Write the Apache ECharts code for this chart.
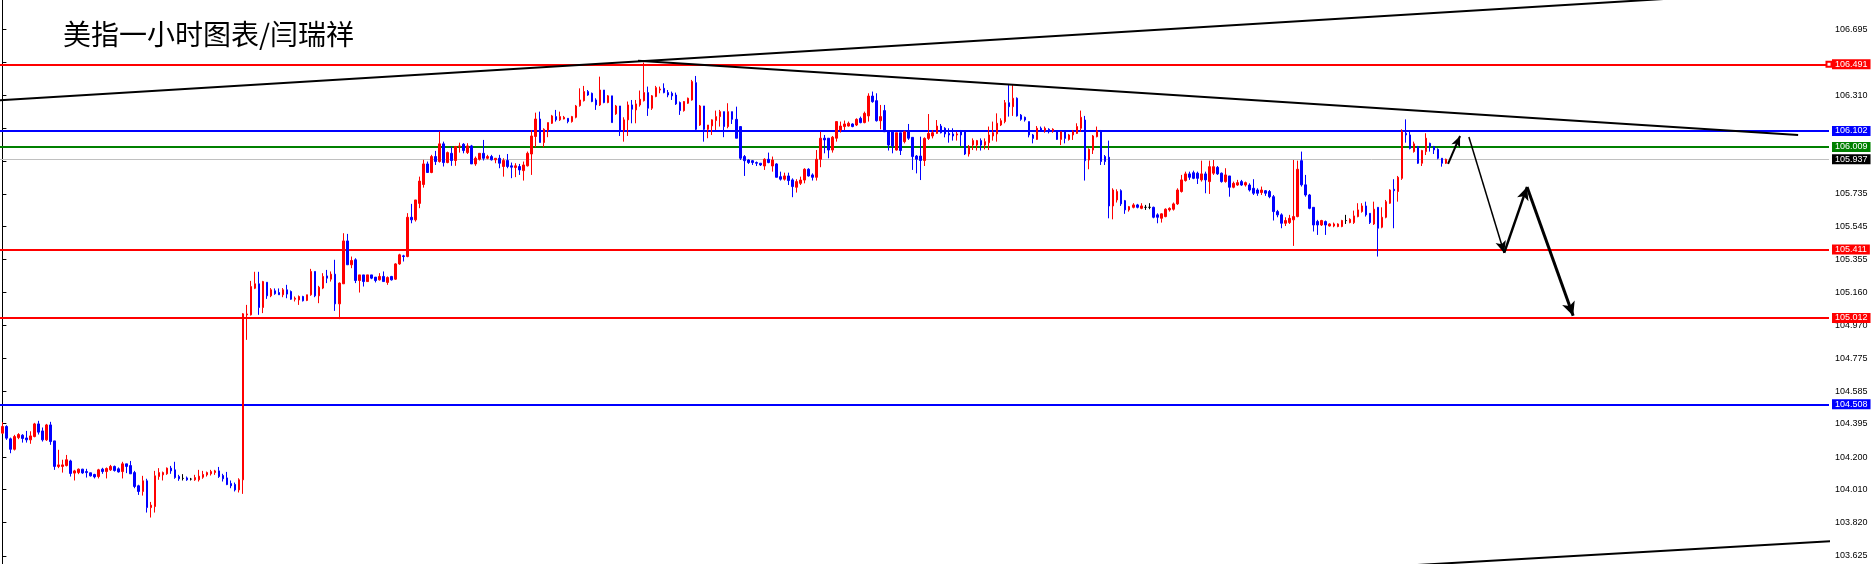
<!DOCTYPE html>
<html><head><meta charset="utf-8">
<script src="https://cdn.jsdelivr.net/npm/echarts@6/dist/echarts.min.js"></script>
<style>html,body{margin:0;padding:0;background:#fff}#c{width:1874px;height:564px}</style>
</head><body><div id="c"></div>
<script>
// OHLC rows: [open, close, low, high], one per hourly candle
const ohlc = [
[104.340,104.379,104.336,104.404],[104.379,104.311,104.301,104.386],[104.307,104.246,104.223,104.314],[104.246,104.320,104.239,104.330],
[104.314,104.332,104.305,104.340],[104.328,104.309,104.285,104.334],[104.312,104.301,104.285,104.353],[104.301,104.324,104.278,104.351],
[104.320,104.394,104.316,104.400],[104.394,104.346,104.332,104.412],[104.353,104.301,104.291,104.373],[104.301,104.388,104.295,104.394],
[104.388,104.291,104.272,104.406],[104.295,104.146,104.126,104.295],[104.146,104.155,104.136,104.243],[104.146,104.155,104.110,104.185],
[104.151,104.185,104.146,104.213],[104.178,104.105,104.087,104.185],[104.107,104.120,104.064,104.126],[104.110,104.130,104.101,104.134],
[104.130,104.108,104.103,104.132],[104.116,104.110,104.081,104.132],[104.109,104.091,104.087,104.109],[104.099,104.085,104.076,104.103],
[104.087,104.126,104.076,104.132],[104.130,104.116,104.103,104.138],[104.116,104.134,104.076,104.140],[104.126,104.146,104.120,104.155],
[104.146,104.122,104.116,104.151],[104.132,104.114,104.110,104.140],[104.116,104.161,104.076,104.173],[104.161,104.146,104.107,104.161],
[104.151,104.103,104.103,104.178],[104.110,104.029,104.019,104.120],[104.033,104.000,103.980,104.039],[104.000,104.062,103.976,104.091],
[104.062,103.906,103.877,104.074],[103.906,103.920,103.848,103.939],[103.912,104.091,103.877,104.120],[104.087,104.110,104.068,104.136],
[104.097,104.110,104.064,104.116],[104.103,104.136,104.097,104.140],[104.136,104.120,104.103,104.149],[104.126,104.081,104.074,104.173],
[104.087,104.074,104.062,104.097],[104.076,104.076,104.064,104.101],[104.079,104.068,104.062,104.087],[104.072,104.072,104.064,104.079],
[104.068,104.081,104.062,104.097],[104.068,104.089,104.058,104.126],[104.083,104.099,104.074,104.120],[104.097,104.110,104.087,104.116],
[104.103,104.116,104.093,104.126],[104.110,104.120,104.097,104.126],[104.120,104.087,104.079,104.143],[104.093,104.074,104.058,104.103],
[104.079,104.040,104.037,104.114],[104.046,104.033,104.019,104.064],[104.041,104.009,104.000,104.052],[104.009,104.068,103.994,104.077],
[104.068,105.036,103.986,105.040],[105.030,105.035,104.884,105.088],[105.030,105.195,105.026,105.228],[105.185,105.211,105.180,105.281],
[105.211,105.073,105.030,105.281],[105.073,105.224,105.040,105.228],[105.220,105.141,105.123,105.220],[105.141,105.176,105.133,105.186],
[105.170,105.153,105.147,105.184],[105.160,105.147,105.147,105.184],[105.147,105.176,105.133,105.186],[105.176,105.151,105.127,105.205],
[105.166,105.121,105.117,105.172],[105.121,105.127,105.108,105.137],[105.117,105.137,105.088,105.143],[105.137,105.112,105.108,105.141],
[105.114,105.147,105.110,105.147],[105.147,105.283,105.141,105.298],[105.283,105.141,105.133,105.283],[105.141,105.191,105.098,105.199],
[105.186,105.254,105.180,105.273],[105.257,105.244,105.215,105.292],[105.238,105.267,105.224,105.283],[105.267,105.094,105.053,105.351],
[105.094,105.215,105.005,105.219],[105.211,105.461,105.211,105.506],[105.461,105.322,105.322,105.502],[105.322,105.347,105.302,105.370],
[105.351,105.230,105.215,105.360],[105.230,105.263,105.160,105.263],[105.263,105.224,105.195,105.263],[105.224,105.263,105.224,105.263],
[105.263,105.244,105.238,105.263],[105.250,105.230,105.219,105.250],[105.234,105.254,105.230,105.273],[105.254,105.224,105.224,105.283],
[105.219,105.248,105.205,105.254],[105.254,105.234,105.230,105.257],[105.238,105.327,105.234,105.331],[105.327,105.380,105.322,105.386],
[105.374,105.370,105.341,105.380],[105.370,105.599,105.366,105.623],[105.599,105.584,105.564,105.677],[105.584,105.700,105.574,105.700],
[105.680,105.810,105.652,105.836],[105.790,105.910,105.772,105.934],[105.910,105.860,105.860,105.924],[105.860,105.953,105.856,105.963],
[105.953,105.924,105.904,105.986],[105.924,106.027,105.918,106.099],[106.027,105.918,105.895,106.040],[105.918,105.976,105.914,105.982],
[105.972,105.930,105.899,106.011],[105.930,106.011,105.899,106.015],[106.011,106.015,105.976,106.034],[106.025,105.988,105.972,106.031],
[105.976,106.015,105.968,106.031],[106.015,105.910,105.910,106.021],[105.910,105.943,105.899,105.953],[105.937,105.972,105.930,105.972],
[105.972,105.943,105.930,106.050],[105.943,105.953,105.937,105.963],[105.953,105.934,105.930,105.963],[105.934,105.943,105.914,105.943],
[105.943,105.914,105.885,105.963],[105.895,105.930,105.836,105.943],[105.930,105.895,105.885,105.968],[105.899,105.891,105.827,105.918],
[105.889,105.899,105.833,105.914],[105.895,105.875,105.846,105.910],[105.871,105.904,105.813,105.924],[105.899,105.972,105.895,105.982],
[105.968,106.073,105.846,106.108],[106.070,106.172,106.007,106.209],[106.172,106.035,106.035,106.215],[106.035,106.112,106.007,106.118],
[106.108,106.151,106.066,106.151],[106.147,106.190,106.143,106.196],[106.186,106.167,106.157,106.225],[106.167,106.186,106.161,106.215],
[106.172,106.182,106.170,106.190],[106.176,106.157,106.147,106.176],[106.157,106.186,106.151,106.190],[106.182,106.248,106.176,106.254],
[106.250,106.283,106.244,106.351],[106.279,106.332,106.274,106.365],[106.332,106.312,106.307,106.341],[106.322,106.274,106.270,106.326],
[106.283,106.254,106.225,106.293],[106.254,106.341,106.248,106.419],[106.341,106.268,106.264,106.341],[106.268,106.307,106.264,106.312],
[106.307,106.151,106.151,106.307],[106.202,106.248,106.196,106.254],[106.248,106.108,106.073,106.248],[106.108,106.167,106.040,106.182],
[106.167,106.254,106.073,106.274],[106.254,106.229,106.147,106.283],[106.225,106.260,106.147,106.283],[106.254,106.287,106.244,106.338],
[106.279,106.326,106.274,106.501],[106.326,106.235,106.190,106.361],[106.235,106.307,106.225,106.312],[106.303,106.355,106.299,106.365],
[106.341,106.347,106.322,106.361],[106.351,106.326,106.322,106.380],[106.326,106.312,106.299,106.341],[106.322,106.307,106.283,106.332],
[106.312,106.260,106.254,106.326],[106.268,106.221,106.196,106.274],[106.221,106.274,106.215,106.277],[106.264,106.293,106.260,106.297],
[106.283,106.390,106.279,106.400],[106.384,106.112,106.108,106.423],[106.137,106.248,106.132,106.254],[106.248,106.112,106.040,106.248],
[106.112,106.137,106.060,106.137],[106.132,106.167,106.079,106.170],[106.163,106.186,106.108,106.221],[106.186,106.215,106.128,106.225],
[106.215,106.128,106.066,106.215],[106.128,106.215,106.118,106.264],[106.215,106.170,106.143,106.215],[106.170,106.060,106.060,106.244],
[106.128,105.943,105.933,106.128],[105.953,105.929,105.840,105.962],[105.933,105.918,105.910,105.937],[105.929,105.918,105.904,105.933],
[105.918,105.914,105.898,105.924],[105.914,105.904,105.898,105.914],[105.898,105.937,105.875,105.943],[105.937,105.918,105.914,105.976],
[105.898,105.933,105.865,105.953],[105.910,105.832,105.832,105.914],[105.836,105.821,105.813,105.865],[105.821,105.840,105.813,105.859],
[105.840,105.813,105.787,105.859],[105.817,105.778,105.716,105.826],[105.774,105.807,105.743,105.821],[105.797,105.816,105.787,105.836],
[105.816,105.879,105.797,105.885],[105.879,105.840,105.836,105.885],[105.846,105.832,105.813,105.855],[105.832,105.937,105.813,105.991],
[105.937,106.060,105.891,106.098],[106.060,106.050,105.972,106.079],[106.060,105.991,105.943,106.060],[105.991,106.066,105.976,106.073],
[106.060,106.157,106.040,106.157],[106.108,106.131,106.093,106.157],[106.128,106.143,106.108,106.163],[106.131,106.147,106.128,106.157],
[106.143,106.128,106.124,106.147],[106.137,106.170,106.131,106.176],[106.176,106.151,106.147,106.186],[106.151,106.205,106.147,106.215],
[106.190,106.306,106.157,106.322],[106.306,106.273,106.267,106.332],[106.279,106.162,106.157,106.322],[106.162,106.186,106.112,106.254],
[106.221,106.098,106.098,106.254],[106.098,106.020,105.988,106.098],[106.098,106.015,105.972,106.098],[105.991,106.092,105.988,106.092],
[106.092,105.988,105.962,106.092],[106.040,106.098,106.030,106.104],[106.098,106.060,106.050,106.143],[106.065,105.953,105.875,106.065],
[105.956,105.937,105.855,105.962],[105.956,105.930,105.816,106.069],[105.930,106.059,105.898,106.065],[106.059,106.088,106.050,106.201],
[106.073,106.092,106.059,106.108],[106.088,106.131,106.085,106.166],[106.131,106.092,106.088,106.143],[106.118,106.085,106.065,106.124],
[106.088,106.079,106.034,106.118],[106.085,106.073,106.046,106.118],[106.079,106.085,106.046,106.098],[106.104,106.079,106.015,106.108],
[106.104,105.968,105.962,106.104],[105.968,106.011,105.953,106.020],[106.020,106.046,105.991,106.059],[106.020,106.046,105.988,106.050],
[106.046,106.020,105.988,106.059],[106.020,106.040,105.995,106.059],[106.034,106.079,105.991,106.128],[106.073,106.092,106.046,106.157],
[106.085,106.147,106.040,106.205],[106.137,106.162,106.131,106.176],[106.157,106.267,106.147,106.283],[106.267,106.244,106.186,106.370],
[106.244,106.293,106.190,106.370],[106.293,106.190,106.186,106.298],[106.195,106.170,106.162,106.201],[106.182,106.166,106.157,106.186],
[106.157,106.079,106.065,106.157],[106.079,106.059,106.030,106.085],[106.053,106.118,106.050,106.131],[106.118,106.108,106.098,106.128],
[106.104,106.118,106.092,106.128],[106.112,106.098,106.088,106.118],[106.104,106.112,106.092,106.118],[106.104,106.053,106.050,106.104],
[106.053,106.098,106.020,106.098],[106.098,106.059,106.030,106.104],[106.053,106.079,106.046,106.085],[106.079,106.098,106.050,106.108],
[106.088,106.128,106.085,106.147],[106.118,106.182,106.098,106.221],[106.166,105.929,105.813,106.190],[105.933,105.995,105.879,106.001],
[105.991,106.073,105.968,106.079],[106.069,106.104,106.065,106.128],[106.104,105.924,105.904,106.108],[105.953,105.924,105.904,105.962],
[105.949,105.665,105.593,106.046],[105.665,105.758,105.587,105.768],[105.700,105.749,105.685,105.762],[105.754,105.677,105.665,105.762],
[105.696,105.642,105.619,105.700],[105.642,105.661,105.632,105.665],[105.657,105.671,105.651,105.681],[105.671,105.657,105.651,105.677],
[105.651,105.665,105.646,105.681],[105.657,105.657,105.642,105.671],[105.657,105.657,105.646,105.681],[105.657,105.599,105.593,105.661],
[105.613,105.599,105.564,105.622],[105.593,105.619,105.568,105.622],[105.603,105.646,105.599,105.651],[105.642,105.651,105.632,105.657],
[105.646,105.677,105.638,105.685],[105.677,105.758,105.671,105.768],[105.749,105.817,105.743,105.846],[105.813,105.852,105.807,105.865],
[105.852,105.832,105.817,105.865],[105.859,105.826,105.821,105.871],[105.856,105.826,105.793,105.865],[105.817,105.852,105.807,105.929],
[105.852,105.817,105.739,105.865],[105.807,105.894,105.735,105.929],[105.856,105.894,105.846,105.933],[105.890,105.852,105.846,105.898],
[105.856,105.807,105.801,105.860],[105.807,105.846,105.801,105.885],[105.840,105.774,105.719,105.840],[105.774,105.797,105.768,105.807],
[105.787,105.801,105.782,105.817],[105.807,105.787,105.782,105.817],[105.787,105.801,105.778,105.807],[105.787,105.758,105.749,105.797],
[105.768,105.739,105.729,105.821],[105.758,105.739,105.724,105.768],[105.743,105.758,105.729,105.778],[105.754,105.739,105.724,105.758],
[105.749,105.719,105.710,105.758],[105.719,105.632,105.580,105.729],[105.632,105.613,105.599,105.642],[105.613,105.564,105.535,105.622],
[105.564,105.580,105.548,105.599],[105.568,105.593,105.560,105.613],[105.584,105.603,105.432,105.933],[105.603,105.879,105.599,105.929],
[105.929,105.788,105.778,105.982],[105.788,105.729,105.719,105.846],[105.729,105.651,105.646,105.735],[105.657,105.554,105.516,105.657],
[105.574,105.554,105.496,105.584],[105.554,105.580,105.548,105.584],[105.574,105.554,105.496,105.580],[105.548,105.560,105.545,105.564],
[105.548,105.560,105.541,105.568],[105.545,105.560,105.541,105.564],[105.545,105.580,105.541,105.584],[105.580,105.580,105.560,105.613],
[105.568,105.587,105.564,105.593],[105.568,105.607,105.560,105.638],[105.603,105.642,105.599,105.681],[105.632,105.665,105.626,105.681],
[105.665,105.613,105.603,105.690],[105.622,105.568,105.560,105.622],[105.560,105.646,105.554,105.690],[105.657,105.535,105.370,105.657],
[105.541,105.599,105.535,105.657],[105.599,105.690,105.593,105.700],[105.681,105.758,105.677,105.762],[105.762,105.754,105.535,105.821],
[105.749,105.832,105.690,105.840],[105.826,106.098,105.817,106.112],[106.089,106.079,106.034,106.170],[106.079,106.001,105.995,106.098],
[105.982,106.027,105.976,106.040],[106.011,105.914,105.910,106.015],[105.914,105.988,105.898,105.992],[105.982,106.060,105.962,106.089],
[106.030,106.011,105.982,106.034],[106.011,105.992,105.968,106.015],[105.995,105.943,105.937,106.001],[105.943,105.914,105.894,105.943],
[105.914,105.937,105.910,105.941]
];

// right price axis
const tickValues  = [106.695,106.505,106.310,106.120,105.925,105.735,105.545,105.355,105.160,104.970,104.775,104.585,104.395,104.200,104.010,103.820,103.625];
const labelValues = [106.695,106.310,105.735,105.545,105.355,105.160,104.970,104.775,104.585,104.395,104.200,104.010,103.820,103.625];
const yMin = 103.577, yMax = 106.866;
const xMin = -0.6, xMax = 455.5;

// horizontal levels
const levels      = [106.491, 106.102, 106.009, 105.937, 105.411, 105.012, 104.508];
const levelColors = ['#ff0000','#0000ff','#008000','#c0c0c0','#ff0000','#ff0000','#0000ff'];
const levelWidths = [2, 2, 2, 1, 2, 2, 2];
const labelBgs    = ['#ff0000','#0000ff','#008000','#000000','#ff0000','#ff0000','#0000ff'];

// trend lines: [[candleIndex, price], [candleIndex, price]]
const trendLines = [
  [[-10, 106.268], [420, 106.880]],
  [[158.5, 106.512], [447.8, 106.079]],
  [[340, 103.554], [460, 103.715]]
];
// forecast arrows
const arrowPaths = [
  [[360.5, 105.910], [363.5, 106.073]],
  [[365.7, 106.067], [374.5, 105.391]],
  [[374.5, 105.391], [380.2, 105.776]],
  [[380.2, 105.776], [391.7, 105.024]]
];
const arrowWidths = [2, 1.5, 2.5, 3];

const FONT = 'Liberation Sans';
const chart = echarts.init(document.getElementById('c'), null, {renderer: 'canvas'});

const levelMarks = levels.map((v, k) => ([
  {
    coord: [xMin, v], symbol: 'none',
    lineStyle: {color: levelColors[k], width: levelWidths[k], type: 'solid'},
    label: {
      show: true, position: 'end', distance: 3,
      formatter: v.toFixed(3), color: '#fff', backgroundColor: labelBgs[k],
      padding: [1, 3, 0, 3], fontSize: 9, fontFamily: FONT, lineHeight: 9
    }
  },
  {coord: [xMax, v], symbol: k === 0 ? 'emptyRect' : 'none', symbolSize: 5}
]));

const arrowMarks = arrowPaths.map((p, k) => ([
  {coord: p[0], symbol: 'none', lineStyle: {color: '#000', width: arrowWidths[k], type: 'solid'}},
  {coord: p[1], symbol: 'arrow', symbolSize: [7 + k, 11 + k]}
]));

const series = [{
  type: 'candlestick',
  data: ohlc.map((d, i) => [i, d[0], d[1], d[2], d[3]]),
  encode: {x: 0, y: [1, 2, 3, 4]},
  barWidth: 2,
  itemStyle: {color: '#ff0000', color0: '#0000ff', borderColor: '#ff0000', borderColor0: '#0000ff', borderColorDoji: '#000000', borderWidth: 1},
  z: 3,
  markLine: {silent: true, symbol: 'none', animation: false, data: levelMarks, z: 2}
}];
trendLines.forEach((t, k) => {
  series.push({
    type: 'line', data: t, showSymbol: false, symbol: 'none', silent: true, clip: true,
    lineStyle: {color: '#000', width: 2}, z: 4,
    markLine: k === 2 ? {silent: true, animation: false, label: {show: false}, data: arrowMarks} : undefined
  });
});

chart.setOption({
  animation: false,
  backgroundColor: '#ffffff',
  title: {
    text: '美指一小时图表/闫瑞祥', left: 58, top: 15,
    textStyle: {fontSize: 28, fontWeight: 'normal', color: '#000', fontFamily: 'Noto Sans CJK SC'}
  },
  grid: {left: 0, right: 45, top: 0, bottom: 0, containLabel: false},
  xAxis: {type: 'value', min: xMin, max: xMax, show: false},
  yAxis: {
    type: 'value', position: 'right', min: yMin, max: yMax,
    axisLine: {show: true, lineStyle: {color: '#000', width: 1}},
    axisTick: {show: true, length: 4, customValues: tickValues, lineStyle: {color: '#000'}},
    axisLabel: {customValues: labelValues, formatter: v => v.toFixed(3), fontSize: 9, fontFamily: FONT, color: '#000', margin: 6},
    splitLine: {show: false}
  },
  series: series
});
</script></body></html>
